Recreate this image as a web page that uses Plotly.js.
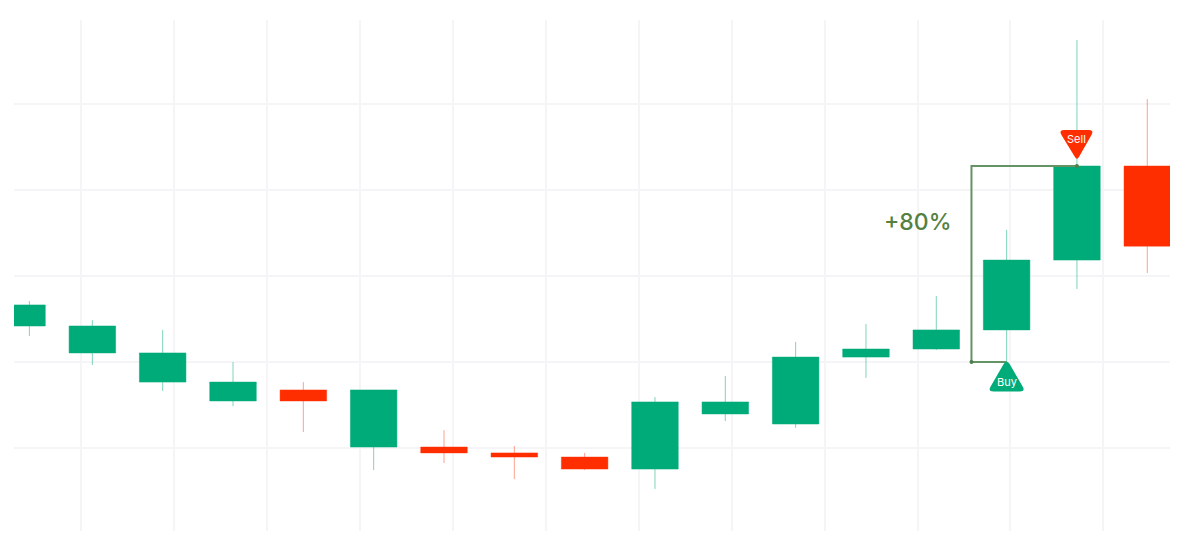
<!DOCTYPE html>
<html>
<head>
<meta charset="utf-8">
<script src="https://cdn.plot.ly/plotly-3.0.1.min.js"></script>
<style>html,body{margin:0;padding:0;background:#fff}#chart{width:1184px;height:551px}</style>
</head>
<body>
<div id="chart"></div>
<script>
const periods = [0,1,2,3,4,5,6,7,8,9,10,11,12,13,14,15,16];
const opens  = [114.7,103.7,91.8,84.1,88.6,65.3,65.3,62.9,61.2,56.3,78.8,74.7,102,105.3,113.1,141.6,180];
const closes = [123.3,114.7,103.7,91.8,84.1,88.6,62.9,61.2,56.3,83.7,83.7,102,105.3,113.1,141.6,180,147.3];
const highs  = [123.3,117.1,113.1,100,91.8,88.6,72.2,65.7,62.9,85.7,94.3,108.2,115.5,126.9,153.9,231.4,207.3];
const lows   = [114.7,98.8,88.2,82,71.4,55.9,58.8,52.2,55.9,48.2,75.9,73.1,93.5,104.9,100,129.8,136.3];
// the first candle is cut by the left plot edge and its wick sits at the middle of the visible part
const firstWickX = [0.105,0.105,null,0.105,0.105];
const firstWickY = [110.6,114.7,null,123.3,124.9];
const bracketX = [14,13.5,13.5,15];
const bracketY = [100,100,180,180];
const bracketDotX = [13.5,15];
const bracketDotY = [100,180];

const GREEN='#00ab7a', RED='#ff2e00', GREENLINE='rgba(0,171,122,0.5)', REDLINE='rgba(255,46,0,0.45)', OLIVE='#659363', GRID='#f5f5f8';
const FONT='Inter, "Noto Sans", sans-serif';

const traces=[
 {type:'candlestick',x:periods,open:opens,high:highs,low:lows,close:closes,whiskerwidth:0,
  increasing:{line:{color:GREENLINE,width:1},fillcolor:GREEN},
  decreasing:{line:{color:REDLINE,width:1},fillcolor:RED},hoverinfo:'skip',showlegend:false},
 {type:'scatter',mode:'lines',x:firstWickX,y:firstWickY,line:{color:GREENLINE,width:1},hoverinfo:'skip',showlegend:false},
 {type:'scatter',mode:'lines',x:bracketX,y:bracketY,line:{color:OLIVE,width:2},hoverinfo:'skip',showlegend:false},
 {type:'scatter',mode:'markers',x:bracketDotX,y:bracketDotY,marker:{color:'#4f7f4c',size:4},hoverinfo:'skip',showlegend:false}
];

const layout={
 width:1184,height:551,margin:{l:14,r:14,t:20,b:20},paper_bgcolor:'#fff',plot_bgcolor:'#fff',showlegend:false,boxgap:0.055,boxmode:'overlay',
 xaxis:{type:'linear',range:[-0.114,16.323],tick0:0.832,dtick:1.3223,showgrid:true,gridcolor:GRID,gridwidth:2,zeroline:false,showline:false,showticklabels:false,ticks:'',rangeslider:{visible:false},fixedrange:true},
 yaxis:{type:'linear',range:[31.02,239.6],tick0:100,dtick:35.1,showgrid:true,gridcolor:GRID,gridwidth:2,zeroline:false,showline:false,showticklabels:false,ticks:'',fixedrange:true},
 shapes:[
  {type:'path',xref:'x',yref:'y',xsizemode:'pixel',ysizemode:'pixel',xanchor:14,yanchor:100,layer:'above',line:{width:0},fillcolor:GREEN,
   path:'M -13,-29.5 Q -19,-29.5 -16,-24.5 L -3,-2 Q 0,2.5 3,-2 L 16,-24.5 Q 19,-29.5 13,-29.5 Z'},
  {type:'path',xref:'x',yref:'y',xsizemode:'pixel',ysizemode:'pixel',xanchor:15,yanchor:180,layer:'above',line:{width:0},fillcolor:RED,
   path:'M -12.5,36 Q -18.5,36 -15.5,31 L -2,9 Q 0,5.5 2,9 L 14.5,31 Q 17.5,36 11.5,36 Z'}
 ],
 annotations:[
  {x:14,y:91.8,xref:'x',yref:'y',text:'Buy',showarrow:false,xanchor:'center',yanchor:'middle',font:{family:FONT,size:11,color:'#fff'}},
  {x:15,y:191,xref:'x',yref:'y',text:'Sell',showarrow:false,xanchor:'center',yanchor:'middle',font:{family:FONT,size:11,color:'#fff'}},
  {x:12.74,y:157.1,xref:'x',yref:'y',text:'+80%',showarrow:false,xanchor:'center',yanchor:'middle',font:{family:FONT,size:23,color:'#54813f',weight:500}}
 ]
};
Plotly.newPlot('chart',traces,layout,{displayModeBar:false,staticPlot:true});
</script>
</body>
</html>
